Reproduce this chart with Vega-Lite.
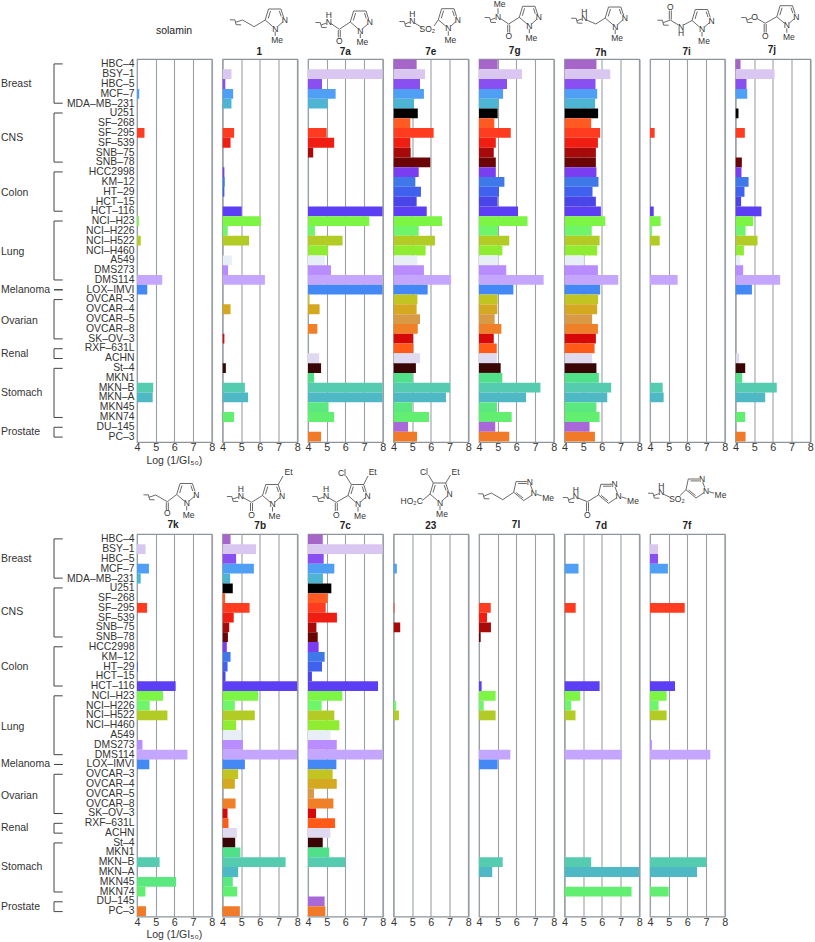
{
"$schema":"https://vega.github.io/schema/vega-lite/v6.json",
"padding":0,
"background":"white",
"config":{"view":{"stroke":"#8c9499","strokeWidth":1.2},"font":"Liberation Sans","concat":{"spacing":0}},
"datasets":{
"groups":[
{"group":"Breast","r0":0.5,"r1":4.5,"mid":2.5},
{"group":"CNS","r0":5.5,"r1":10.5,"mid":8},
{"group":"Colon","r0":11.5,"r1":15.5,"mid":13.6},
{"group":"Lung","r0":16.5,"r1":22.5,"mid":19.7},
{"group":"Melanoma","r0":23.5,"r1":23.5,"mid":23.5},
{"group":"Ovarian","r0":24.5,"r1":28.5,"mid":26.7},
{"group":"Renal","r0":29.5,"r1":30.5,"mid":30},
{"group":"Stomach","r0":31.5,"r1":36.5,"mid":34},
{"group":"Prostate","r0":37.5,"r1":38.5,"mid":38}
],
"bars":[
{"compound":"solamin","cell":"MCF–7","v":4.12},{"compound":"solamin","cell":"SF–295","v":4.4},{"compound":"solamin","cell":"NCI–H23","v":4.1},{"compound":"solamin","cell":"NCI–H522","v":4.2},{"compound":"solamin","cell":"DMS114","v":5.35},{"compound":"solamin","cell":"LOX–IMVI","v":4.55},{"compound":"solamin","cell":"MKN–B","v":4.87},{"compound":"solamin","cell":"MKN–A","v":4.84},
{"compound":"1","cell":"BSY–1","v":4.48},{"compound":"1","cell":"HBC–5","v":4.15},{"compound":"1","cell":"MCF–7","v":4.57},{"compound":"1","cell":"MDA–MB–231","v":4.48},{"compound":"1","cell":"SF–295","v":4.62},{"compound":"1","cell":"SF–539","v":4.43},{"compound":"1","cell":"HCC2998","v":4.1},{"compound":"1","cell":"KM–12","v":4.12},{"compound":"1","cell":"HT–29","v":4.1},{"compound":"1","cell":"HCT–116","v":5.03},{"compound":"1","cell":"NCI–H23","v":6.05},{"compound":"1","cell":"NCI–H226","v":4.28},{"compound":"1","cell":"NCI–H522","v":5.42},{"compound":"1","cell":"A549","v":4.5},{"compound":"1","cell":"DMS273","v":4.3},{"compound":"1","cell":"DMS114","v":6.27},{"compound":"1","cell":"OVCAR–4","v":4.43},{"compound":"1","cell":"SK–OV–3","v":4.1},{"compound":"1","cell":"St–4","v":4.18},{"compound":"1","cell":"MKN–B","v":5.2},{"compound":"1","cell":"MKN–A","v":5.37},{"compound":"1","cell":"MKN74","v":4.62},
{"compound":"7a","cell":"BSY–1","v":8},{"compound":"7a","cell":"HBC–5","v":4.75},{"compound":"7a","cell":"MCF–7","v":5.48},{"compound":"7a","cell":"MDA–MB–231","v":5.05},{"compound":"7a","cell":"SF–295","v":5},{"compound":"7a","cell":"SF–539","v":5.4},{"compound":"7a","cell":"SNB–75","v":4.28},{"compound":"7a","cell":"HCT–116","v":8},{"compound":"7a","cell":"NCI–H23","v":7.28},{"compound":"7a","cell":"NCI–H226","v":4.37},{"compound":"7a","cell":"NCI–H522","v":5.85},{"compound":"7a","cell":"NCI–H460","v":5.07},{"compound":"7a","cell":"A549","v":4.9},{"compound":"7a","cell":"DMS273","v":5.23},{"compound":"7a","cell":"DMS114","v":8},{"compound":"7a","cell":"LOX–IMVI","v":8},{"compound":"7a","cell":"OVCAR–3","v":4.08},{"compound":"7a","cell":"OVCAR–4","v":4.62},{"compound":"7a","cell":"OVCAR–8","v":4.5},{"compound":"7a","cell":"ACHN","v":4.6},{"compound":"7a","cell":"St–4","v":4.7},{"compound":"7a","cell":"MKN1","v":4.33},{"compound":"7a","cell":"MKN–B","v":8},{"compound":"7a","cell":"MKN–A","v":8},{"compound":"7a","cell":"MKN45","v":5.1},{"compound":"7a","cell":"MKN74","v":5.4},{"compound":"7a","cell":"PC–3","v":4.7},
{"compound":"7e","cell":"HBC–4","v":5.24},{"compound":"7e","cell":"BSY–1","v":5.69},{"compound":"7e","cell":"HBC–5","v":5.42},{"compound":"7e","cell":"MCF–7","v":5.63},{"compound":"7e","cell":"MDA–MB–231","v":5.1},{"compound":"7e","cell":"U251","v":5.3},{"compound":"7e","cell":"SF–268","v":4.9},{"compound":"7e","cell":"SF–295","v":6.15},{"compound":"7e","cell":"SF–539","v":4.9},{"compound":"7e","cell":"SNB–75","v":4.92},{"compound":"7e","cell":"SNB–78","v":5.97},{"compound":"7e","cell":"HCC2998","v":5.35},{"compound":"7e","cell":"KM–12","v":5.17},{"compound":"7e","cell":"HT–29","v":5.47},{"compound":"7e","cell":"HCT–15","v":5.24},{"compound":"7e","cell":"HCT–116","v":5.78},{"compound":"7e","cell":"NCI–H23","v":6.6},{"compound":"7e","cell":"NCI–H226","v":5.35},{"compound":"7e","cell":"NCI–H522","v":6.22},{"compound":"7e","cell":"NCI–H460","v":5.72},{"compound":"7e","cell":"A549","v":5.28},{"compound":"7e","cell":"DMS273","v":5.63},{"compound":"7e","cell":"DMS114","v":7.08},{"compound":"7e","cell":"LOX–IMVI","v":5.83},{"compound":"7e","cell":"OVCAR–3","v":5.28},{"compound":"7e","cell":"OVCAR–4","v":5.24},{"compound":"7e","cell":"OVCAR–5","v":5.42},{"compound":"7e","cell":"OVCAR–8","v":5.3},{"compound":"7e","cell":"SK–OV–3","v":5.05},{"compound":"7e","cell":"RXF–631L","v":5.06},{"compound":"7e","cell":"ACHN","v":5.42},{"compound":"7e","cell":"St–4","v":5.2},{"compound":"7e","cell":"MKN1","v":5.03},{"compound":"7e","cell":"MKN–B","v":7.03},{"compound":"7e","cell":"MKN–A","v":6.81},{"compound":"7e","cell":"MKN45","v":5},{"compound":"7e","cell":"MKN74","v":5.9},{"compound":"7e","cell":"DU–145","v":4.78},{"compound":"7e","cell":"PC–3","v":5.26},
{"compound":"7g","cell":"HBC–4","v":5},{"compound":"7g","cell":"BSY–1","v":6.3},{"compound":"7g","cell":"HBC–5","v":5.5},{"compound":"7g","cell":"MCF–7","v":5.29},{"compound":"7g","cell":"MDA–MB–231","v":5.04},{"compound":"7g","cell":"U251","v":5},{"compound":"7g","cell":"SF–268","v":4.82},{"compound":"7g","cell":"SF–295","v":5.7},{"compound":"7g","cell":"SF–539","v":4.9},{"compound":"7g","cell":"SNB–75","v":4.79},{"compound":"7g","cell":"SNB–78","v":4.9},{"compound":"7g","cell":"HCC2998","v":4.9},{"compound":"7g","cell":"KM–12","v":5.36},{"compound":"7g","cell":"HT–29","v":5.07},{"compound":"7g","cell":"HCT–15","v":5},{"compound":"7g","cell":"HCT–116","v":6.09},{"compound":"7g","cell":"NCI–H23","v":6.6},{"compound":"7g","cell":"NCI–H226","v":5.02},{"compound":"7g","cell":"NCI–H522","v":5.62},{"compound":"7g","cell":"NCI–H460","v":5.25},{"compound":"7g","cell":"A549","v":5.05},{"compound":"7g","cell":"DMS273","v":5.46},{"compound":"7g","cell":"DMS114","v":7.46},{"compound":"7g","cell":"LOX–IMVI","v":5.84},{"compound":"7g","cell":"OVCAR–3","v":5},{"compound":"7g","cell":"OVCAR–4","v":4.98},{"compound":"7g","cell":"OVCAR–5","v":4.84},{"compound":"7g","cell":"OVCAR–8","v":5.2},{"compound":"7g","cell":"SK–OV–3","v":4.79},{"compound":"7g","cell":"RXF–631L","v":4.95},{"compound":"7g","cell":"ACHN","v":4.95},{"compound":"7g","cell":"St–4","v":5.16},{"compound":"7g","cell":"MKN1","v":5.25},{"compound":"7g","cell":"MKN–B","v":7.29},{"compound":"7g","cell":"MKN–A","v":6.52},{"compound":"7g","cell":"MKN45","v":4.96},{"compound":"7g","cell":"MKN74","v":5.75},{"compound":"7g","cell":"DU–145","v":4.87},{"compound":"7g","cell":"PC–3","v":5.62},
{"compound":"7h","cell":"HBC–4","v":5.71},{"compound":"7h","cell":"BSY–1","v":6.45},{"compound":"7h","cell":"HBC–5","v":5.66},{"compound":"7h","cell":"MCF–7","v":5.75},{"compound":"7h","cell":"MDA–MB–231","v":5.64},{"compound":"7h","cell":"U251","v":5.8},{"compound":"7h","cell":"SF–268","v":5.43},{"compound":"7h","cell":"SF–295","v":5.91},{"compound":"7h","cell":"SF–539","v":5.79},{"compound":"7h","cell":"SNB–75","v":5.68},{"compound":"7h","cell":"SNB–78","v":5.68},{"compound":"7h","cell":"HCC2998","v":5.71},{"compound":"7h","cell":"KM–12","v":5.82},{"compound":"7h","cell":"HT–29","v":5.5},{"compound":"7h","cell":"HCT–15","v":5.68},{"compound":"7h","cell":"HCT–116","v":5.95},{"compound":"7h","cell":"NCI–H23","v":6.18},{"compound":"7h","cell":"NCI–H226","v":5.46},{"compound":"7h","cell":"NCI–H522","v":5.88},{"compound":"7h","cell":"NCI–H460","v":5.75},{"compound":"7h","cell":"A549","v":5.04},{"compound":"7h","cell":"DMS273","v":5.79},{"compound":"7h","cell":"DMS114","v":6.88},{"compound":"7h","cell":"LOX–IMVI","v":5.91},{"compound":"7h","cell":"OVCAR–3","v":5.8},{"compound":"7h","cell":"OVCAR–4","v":5.75},{"compound":"7h","cell":"OVCAR–5","v":5.48},{"compound":"7h","cell":"OVCAR–8","v":5.79},{"compound":"7h","cell":"SK–OV–3","v":5.68},{"compound":"7h","cell":"RXF–631L","v":5.61},{"compound":"7h","cell":"ACHN","v":5.48},{"compound":"7h","cell":"St–4","v":5.71},{"compound":"7h","cell":"MKN1","v":5.84},{"compound":"7h","cell":"MKN–B","v":6.5},{"compound":"7h","cell":"MKN–A","v":6.29},{"compound":"7h","cell":"MKN45","v":5.71},{"compound":"7h","cell":"MKN74","v":5.88},{"compound":"7h","cell":"DU–145","v":5.34},{"compound":"7h","cell":"PC–3","v":5.63},
{"compound":"7i","cell":"SF–295","v":4.25},{"compound":"7i","cell":"HCT–116","v":4.2},{"compound":"7i","cell":"NCI–H23","v":4.57},{"compound":"7i","cell":"NCI–H226","v":4.1},{"compound":"7i","cell":"NCI–H522","v":4.52},{"compound":"7i","cell":"DMS114","v":5.48},{"compound":"7i","cell":"MKN–B","v":4.68},{"compound":"7i","cell":"MKN–A","v":4.73},
{"compound":"7j","cell":"HBC–4","v":4.27},{"compound":"7j","cell":"BSY–1","v":6.09},{"compound":"7j","cell":"HBC–5","v":4.59},{"compound":"7j","cell":"MCF–7","v":4.63},{"compound":"7j","cell":"U251","v":4.16},{"compound":"7j","cell":"SF–295","v":4.5},{"compound":"7j","cell":"SNB–78","v":4.34},{"compound":"7j","cell":"HCC2998","v":4.32},{"compound":"7j","cell":"KM–12","v":4.7},{"compound":"7j","cell":"HT–29","v":4.48},{"compound":"7j","cell":"HCT–15","v":4.3},{"compound":"7j","cell":"HCT–116","v":5.39},{"compound":"7j","cell":"NCI–H23","v":4.95},{"compound":"7j","cell":"NCI–H226","v":4.54},{"compound":"7j","cell":"NCI–H522","v":5.18},{"compound":"7j","cell":"NCI–H460","v":4.45},{"compound":"7j","cell":"A549","v":4.25},{"compound":"7j","cell":"DMS273","v":4.41},{"compound":"7j","cell":"DMS114","v":6.39},{"compound":"7j","cell":"LOX–IMVI","v":4.88},{"compound":"7j","cell":"ACHN","v":4.2},{"compound":"7j","cell":"St–4","v":4.52},{"compound":"7j","cell":"MKN1","v":4.36},{"compound":"7j","cell":"MKN–B","v":6.21},{"compound":"7j","cell":"MKN–A","v":5.59},{"compound":"7j","cell":"MKN74","v":4.52},{"compound":"7j","cell":"PC–3","v":4.54},
{"compound":"7k","cell":"BSY–1","v":4.46},{"compound":"7k","cell":"MCF–7","v":4.64},{"compound":"7k","cell":"MDA–MB–231","v":4.2},{"compound":"7k","cell":"SF–295","v":4.54},{"compound":"7k","cell":"HT–29","v":4.04},{"compound":"7k","cell":"HCT–116","v":6.07},{"compound":"7k","cell":"NCI–H23","v":5.39},{"compound":"7k","cell":"NCI–H226","v":4.68},{"compound":"7k","cell":"NCI–H522","v":5.63},{"compound":"7k","cell":"DMS273","v":4.29},{"compound":"7k","cell":"DMS114","v":6.7},{"compound":"7k","cell":"LOX–IMVI","v":4.66},{"compound":"7k","cell":"MKN–B","v":5.21},{"compound":"7k","cell":"MKN45","v":6.09},{"compound":"7k","cell":"MKN74","v":4.45},{"compound":"7k","cell":"PC–3","v":4.48},
{"compound":"7b","cell":"HBC–4","v":4.43},{"compound":"7b","cell":"BSY–1","v":5.8},{"compound":"7b","cell":"HBC–5","v":4.73},{"compound":"7b","cell":"MCF–7","v":5.68},{"compound":"7b","cell":"MDA–MB–231","v":4.41},{"compound":"7b","cell":"U251","v":4.55},{"compound":"7b","cell":"SF–268","v":4.14},{"compound":"7b","cell":"SF–295","v":5.45},{"compound":"7b","cell":"SF–539","v":4.6},{"compound":"7b","cell":"SNB–75","v":4.36},{"compound":"7b","cell":"SNB–78","v":4.29},{"compound":"7b","cell":"HCC2998","v":4.23},{"compound":"7b","cell":"KM–12","v":4.43},{"compound":"7b","cell":"HT–29","v":4.27},{"compound":"7b","cell":"HCT–15","v":4.16},{"compound":"7b","cell":"HCT–116","v":8},{"compound":"7b","cell":"NCI–H23","v":5.91},{"compound":"7b","cell":"NCI–H226","v":4.66},{"compound":"7b","cell":"NCI–H522","v":5.73},{"compound":"7b","cell":"NCI–H460","v":4.73},{"compound":"7b","cell":"A549","v":5.02},{"compound":"7b","cell":"DMS273","v":5.09},{"compound":"7b","cell":"DMS114","v":8},{"compound":"7b","cell":"LOX–IMVI","v":5.2},{"compound":"7b","cell":"OVCAR–3","v":4.84},{"compound":"7b","cell":"OVCAR–4","v":4.66},{"compound":"7b","cell":"OVCAR–8","v":4.7},{"compound":"7b","cell":"SK–OV–3","v":4.27},{"compound":"7b","cell":"RXF–631L","v":4.32},{"compound":"7b","cell":"ACHN","v":4.77},{"compound":"7b","cell":"St–4","v":4.68},{"compound":"7b","cell":"MKN1","v":4.96},{"compound":"7b","cell":"MKN–B","v":7.38},{"compound":"7b","cell":"MKN–A","v":4.84},{"compound":"7b","cell":"MKN45","v":4.55},{"compound":"7b","cell":"MKN74","v":4.79},{"compound":"7b","cell":"PC–3","v":4.93},
{"compound":"7c","cell":"HBC–4","v":4.79},{"compound":"7c","cell":"BSY–1","v":8},{"compound":"7c","cell":"HBC–5","v":4.84},{"compound":"7c","cell":"MCF–7","v":5.41},{"compound":"7c","cell":"MDA–MB–231","v":4.8},{"compound":"7c","cell":"U251","v":5.25},{"compound":"7c","cell":"SF–268","v":5.05},{"compound":"7c","cell":"SF–295","v":4.95},{"compound":"7c","cell":"SF–539","v":5.55},{"compound":"7c","cell":"SNB–75","v":4.45},{"compound":"7c","cell":"SNB–78","v":4.52},{"compound":"7c","cell":"HCC2998","v":4.57},{"compound":"7c","cell":"KM–12","v":4.89},{"compound":"7c","cell":"HT–29","v":4.75},{"compound":"7c","cell":"HCT–15","v":4.21},{"compound":"7c","cell":"HCT–116","v":7.75},{"compound":"7c","cell":"NCI–H23","v":5.84},{"compound":"7c","cell":"NCI–H226","v":4.73},{"compound":"7c","cell":"NCI–H522","v":5.41},{"compound":"7c","cell":"NCI–H460","v":5.68},{"compound":"7c","cell":"A549","v":5.21},{"compound":"7c","cell":"DMS273","v":5.54},{"compound":"7c","cell":"DMS114","v":8},{"compound":"7c","cell":"LOX–IMVI","v":5.52},{"compound":"7c","cell":"OVCAR–3","v":5.32},{"compound":"7c","cell":"OVCAR–4","v":5.54},{"compound":"7c","cell":"OVCAR–5","v":4.32},{"compound":"7c","cell":"OVCAR–8","v":5.36},{"compound":"7c","cell":"SK–OV–3","v":4.43},{"compound":"7c","cell":"RXF–631L","v":5.45},{"compound":"7c","cell":"ACHN","v":5.2},{"compound":"7c","cell":"St–4","v":4.79},{"compound":"7c","cell":"MKN1","v":5.14},{"compound":"7c","cell":"MKN–B","v":6},{"compound":"7c","cell":"DU–145","v":4.89},{"compound":"7c","cell":"PC–3","v":4.93},
{"compound":"23","cell":"MCF–7","v":4.18},{"compound":"23","cell":"SF–295","v":4.05},{"compound":"23","cell":"SNB–75","v":4.36},{"compound":"23","cell":"NCI–H226","v":4.14},{"compound":"23","cell":"NCI–H522","v":4.29},
{"compound":"7l","cell":"SF–295","v":4.63},{"compound":"7l","cell":"SF–539","v":4.43},{"compound":"7l","cell":"SNB–75","v":4.64},{"compound":"7l","cell":"SNB–78","v":4.09},{"compound":"7l","cell":"HCT–116","v":4.14},{"compound":"7l","cell":"NCI–H23","v":4.89},{"compound":"7l","cell":"NCI–H226","v":4.25},{"compound":"7l","cell":"NCI–H522","v":4.89},{"compound":"7l","cell":"DMS114","v":5.68},{"compound":"7l","cell":"LOX–IMVI","v":5},{"compound":"7l","cell":"MKN–B","v":5.27},{"compound":"7l","cell":"MKN–A","v":4.71},
{"compound":"7d","cell":"MCF–7","v":4.75},{"compound":"7d","cell":"SF–295","v":4.6},{"compound":"7d","cell":"HCT–116","v":5.88},{"compound":"7d","cell":"NCI–H23","v":4.84},{"compound":"7d","cell":"NCI–H226","v":4.36},{"compound":"7d","cell":"NCI–H522","v":4.59},{"compound":"7d","cell":"DMS114","v":7.07},{"compound":"7d","cell":"MKN–B","v":5.43},{"compound":"7d","cell":"MKN–A","v":8},{"compound":"7d","cell":"MKN74","v":7.59},
{"compound":"7f","cell":"BSY–1","v":4.43},{"compound":"7f","cell":"HBC–5","v":4.43},{"compound":"7f","cell":"MCF–7","v":4.96},{"compound":"7f","cell":"SF–295","v":5.86},{"compound":"7f","cell":"HCT–116","v":5.34},{"compound":"7f","cell":"NCI–H23","v":4.89},{"compound":"7f","cell":"NCI–H226","v":4.46},{"compound":"7f","cell":"NCI–H522","v":4.89},{"compound":"7f","cell":"DMS273","v":4.1},{"compound":"7f","cell":"DMS114","v":7.23},{"compound":"7f","cell":"MKN–B","v":7.02},{"compound":"7f","cell":"MKN–A","v":6.52},{"compound":"7f","cell":"MKN74","v":5}
],
"structure":[
{"c":"solamin","x":38,"y":30.7,"t":"solamin","k":"p"},
{"c":"1","x":37.7,"y":51.7,"t":"1","k":"n"},{"c":"1","x":63.2,"y":20,"t":"N","k":"a"},{"c":"1","x":53.7,"y":28.7,"t":"N","k":"a"},{"c":"1","x":55.7,"y":40.3,"t":"Me","k":"a"},
{"c":"1","x":43.7,"y":20,"x2":47,"y2":9},{"c":"1","x":47,"y":9,"x2":59.4,"y2":9},{"c":"1","x":59.4,"y":9,"x2":62,"y2":17},{"c":"1","x":61.2,"y":22,"x2":56.2,"y2":26.5},{"c":"1","x":51.2,"y":26.5,"x2":43.7,"y2":20},{"c":"1","x":46.7,"y":18.5,"x2":49,"y2":11},{"c":"1","x":57.9,"y":11,"x2":59.7,"y2":16.5},{"c":"1","x":53.7,"y":31.5,"x2":53.7,"y2":36},{"c":"1","x":8.4,"y":19.8,"x2":13.4,"y2":19.9},{"c":"1","x":13.4,"y":19.9,"x2":14.6,"y2":24.7},{"c":"1","x":14.6,"y":24.7,"x2":19.6,"y2":24.8},{"c":"1","x":14,"y":22.3,"x2":21,"y2":20},{"c":"1","x":21,"y":20,"x2":32.7,"y2":26.7},{"c":"1","x":32.7,"y":26.7,"x2":43.7,"y2":20},
{"c":"7a","x":38.3,"y":51.7,"t":"7a","k":"n"},{"c":"7a","x":62.8,"y":22,"t":"N","k":"a"},{"c":"7a","x":53.3,"y":30.7,"t":"N","k":"a"},{"c":"7a","x":55.3,"y":42.3,"t":"Me","k":"a"},{"c":"7a","x":21.7,"y":21.7,"t":"N","k":"a"},{"c":"7a","x":21.7,"y":15,"t":"H","k":"a"},{"c":"7a","x":32.3,"y":40.7,"t":"O","k":"a"},
{"c":"7a","x":43.3,"y":22,"x2":46.6,"y2":11},{"c":"7a","x":46.6,"y":11,"x2":59,"y2":11},{"c":"7a","x":59,"y":11,"x2":61.6,"y2":19},{"c":"7a","x":60.8,"y":24,"x2":55.8,"y2":28.5},{"c":"7a","x":50.8,"y":28.5,"x2":43.3,"y2":22},{"c":"7a","x":46.3,"y":20.5,"x2":48.6,"y2":13},{"c":"7a","x":57.5,"y":13,"x2":59.3,"y2":18.5},{"c":"7a","x":53.3,"y":33.5,"x2":53.3,"y2":38},{"c":"7a","x":8.4,"y":22.5,"x2":13.4,"y2":22.6},{"c":"7a","x":13.4,"y":22.6,"x2":14.6,"y2":27.4},{"c":"7a","x":14.6,"y":27.4,"x2":19.6,"y2":27.5},{"c":"7a","x":14,"y":25,"x2":19.5,"y2":23},{"c":"7a","x":24,"y":23.5,"x2":32.3,"y2":29.3},{"c":"7a","x":32.3,"y":29.3,"x2":43.3,"y2":22},{"c":"7a","x":31.3,"y":30,"x2":31.3,"y2":37.5},{"c":"7a","x":33.3,"y":30,"x2":33.3,"y2":37.5},
{"c":"7e","x":38.2,"y":51.7,"t":"7e","k":"n"},{"c":"7e","x":65.3,"y":19.7,"t":"N","k":"a"},{"c":"7e","x":55.8,"y":28.4,"t":"N","k":"a"},{"c":"7e","x":57.8,"y":40,"t":"Me","k":"a"},{"c":"7e","x":19.8,"y":20.7,"t":"N","k":"a"},{"c":"7e","x":19.8,"y":14,"t":"H","k":"a"},{"c":"7e","x":34.8,"y":29,"t":"SO₂","k":"a"},
{"c":"7e","x":45.8,"y":19.7,"x2":49.1,"y2":8.7},{"c":"7e","x":49.1,"y":8.7,"x2":61.5,"y2":8.7},{"c":"7e","x":61.5,"y":8.7,"x2":64.1,"y2":16.7},{"c":"7e","x":63.3,"y":21.7,"x2":58.3,"y2":26.2},{"c":"7e","x":53.3,"y":26.2,"x2":45.8,"y2":19.7},{"c":"7e","x":48.8,"y":18.2,"x2":51.1,"y2":10.7},{"c":"7e","x":60,"y":10.7,"x2":61.8,"y2":16.2},{"c":"7e","x":55.8,"y":31.2,"x2":55.8,"y2":35.7},{"c":"7e","x":6.9,"y":21.5,"x2":11.9,"y2":21.6},{"c":"7e","x":11.9,"y":21.6,"x2":13.1,"y2":26.4},{"c":"7e","x":13.1,"y":26.4,"x2":18.1,"y2":26.5},{"c":"7e","x":12.5,"y":24,"x2":17.5,"y2":22},{"c":"7e","x":22.5,"y":23.3,"x2":29.2,"y2":27.3},{"c":"7e","x":41.5,"y":26,"x2":45.8,"y2":19.7},
{"c":"7g","x":36.7,"y":50.7,"t":"7g","k":"n"},{"c":"7g","x":60.8,"y":17.3,"t":"N","k":"a"},{"c":"7g","x":51.3,"y":26,"t":"N","k":"a"},{"c":"7g","x":53.3,"y":37.6,"t":"Me","k":"a"},{"c":"7g","x":20,"y":16.7,"t":"N","k":"a"},{"c":"7g","x":21.7,"y":4,"t":"Me","k":"a"},{"c":"7g","x":30.7,"y":36,"t":"O","k":"a"},
{"c":"7g","x":41.3,"y":17.3,"x2":44.6,"y2":6.3},{"c":"7g","x":44.6,"y":6.3,"x2":57,"y2":6.3},{"c":"7g","x":57,"y":6.3,"x2":59.6,"y2":14.3},{"c":"7g","x":58.8,"y":19.3,"x2":53.8,"y2":23.8},{"c":"7g","x":48.8,"y":23.8,"x2":41.3,"y2":17.3},{"c":"7g","x":44.3,"y":15.8,"x2":46.6,"y2":8.3},{"c":"7g","x":55.5,"y":8.3,"x2":57.3,"y2":13.8},{"c":"7g","x":51.3,"y":28.8,"x2":51.3,"y2":33.3},{"c":"7g","x":6.7,"y":17.5,"x2":11.7,"y2":17.6},{"c":"7g","x":11.7,"y":17.6,"x2":12.9,"y2":22.4},{"c":"7g","x":12.9,"y":22.4,"x2":17.9,"y2":22.5},{"c":"7g","x":12.3,"y":20,"x2":17.5,"y2":18},{"c":"7g","x":22.5,"y":18.5,"x2":30.7,"y2":24},{"c":"7g","x":30.7,"y":24,"x2":41.3,"y2":17.3},{"c":"7g","x":29.7,"y":24.7,"x2":29.7,"y2":32.5},{"c":"7g","x":31.7,"y":24.7,"x2":31.7,"y2":32.5},{"c":"7g","x":20,"y":14,"x2":20,"y2":8.3},
{"c":"7h","x":37.3,"y":52.7,"t":"7h","k":"n"},{"c":"7h","x":61.2,"y":18,"t":"N","k":"a"},{"c":"7h","x":51.7,"y":26.7,"t":"N","k":"a"},{"c":"7h","x":53.7,"y":38.3,"t":"Me","k":"a"},{"c":"7h","x":20.7,"y":18.3,"t":"N","k":"a"},{"c":"7h","x":20.7,"y":11.7,"t":"H","k":"a"},
{"c":"7h","x":41.7,"y":18,"x2":45,"y2":7},{"c":"7h","x":45,"y":7,"x2":57.4,"y2":7},{"c":"7h","x":57.4,"y":7,"x2":60,"y2":15},{"c":"7h","x":59.2,"y":20,"x2":54.2,"y2":24.5},{"c":"7h","x":49.2,"y":24.5,"x2":41.7,"y2":18},{"c":"7h","x":44.7,"y":16.5,"x2":47,"y2":9},{"c":"7h","x":55.9,"y":9,"x2":57.7,"y2":14.5},{"c":"7h","x":51.7,"y":29.5,"x2":51.7,"y2":34},{"c":"7h","x":7.7,"y":18.2,"x2":12.7,"y2":18.3},{"c":"7h","x":12.7,"y":18.3,"x2":13.9,"y2":23.1},{"c":"7h","x":13.9,"y":23.1,"x2":18.9,"y2":23.2},{"c":"7h","x":13.3,"y":20.7,"x2":18.5,"y2":19},{"c":"7h","x":23,"y":20,"x2":32.3,"y2":24},{"c":"7h","x":32.3,"y":24,"x2":41.7,"y2":18},
{"c":"7i","x":37.7,"y":52.3,"t":"7i","k":"n"},{"c":"7i","x":62.5,"y":20.5,"t":"N","k":"a"},{"c":"7i","x":53,"y":29.2,"t":"N","k":"a"},{"c":"7i","x":55,"y":40.8,"t":"Me","k":"a"},{"c":"7i","x":21.3,"y":7.3,"t":"O","k":"a"},{"c":"7i","x":32,"y":26.7,"t":"N","k":"a"},{"c":"7i","x":32,"y":33.3,"t":"H","k":"a"},
{"c":"7i","x":43,"y":20.5,"x2":46.3,"y2":9.5},{"c":"7i","x":46.3,"y":9.5,"x2":58.7,"y2":9.5},{"c":"7i","x":58.7,"y":9.5,"x2":61.3,"y2":17.5},{"c":"7i","x":60.5,"y":22.5,"x2":55.5,"y2":27},{"c":"7i","x":50.5,"y":27,"x2":43,"y2":20.5},{"c":"7i","x":46,"y":19,"x2":48.3,"y2":11.5},{"c":"7i","x":57.2,"y":11.5,"x2":59,"y2":17},{"c":"7i","x":53,"y":32,"x2":53,"y2":36.5},{"c":"7i","x":8.4,"y":20.2,"x2":13.4,"y2":20.3},{"c":"7i","x":13.4,"y":20.3,"x2":14.6,"y2":25.1},{"c":"7i","x":14.6,"y":25.1,"x2":19.6,"y2":25.2},{"c":"7i","x":14,"y":22.7,"x2":21.3,"y2":20},{"c":"7i","x":20.3,"y":19.5,"x2":20.3,"y2":10.5},{"c":"7i","x":22.3,"y":19.5,"x2":22.3,"y2":10.5},{"c":"7i","x":21.3,"y":20,"x2":29.5,"y2":25},{"c":"7i","x":34.5,"y":25,"x2":43,"y2":20.5},
{"c":"7j","x":37.3,"y":50,"t":"7j","k":"n"},{"c":"7j","x":61.8,"y":16.7,"t":"N","k":"a"},{"c":"7j","x":52.3,"y":25.4,"t":"N","k":"a"},{"c":"7j","x":54.3,"y":37,"t":"Me","k":"a"},{"c":"7j","x":20,"y":16.7,"t":"O","k":"a"},{"c":"7j","x":30.7,"y":36,"t":"O","k":"a"},
{"c":"7j","x":42.3,"y":16.7,"x2":45.6,"y2":5.7},{"c":"7j","x":45.6,"y":5.7,"x2":58,"y2":5.7},{"c":"7j","x":58,"y":5.7,"x2":60.6,"y2":13.7},{"c":"7j","x":59.8,"y":18.7,"x2":54.8,"y2":23.2},{"c":"7j","x":49.8,"y":23.2,"x2":42.3,"y2":16.7},{"c":"7j","x":45.3,"y":15.2,"x2":47.6,"y2":7.7},{"c":"7j","x":56.5,"y":7.7,"x2":58.3,"y2":13.2},{"c":"7j","x":52.3,"y":28.2,"x2":52.3,"y2":32.7},{"c":"7j","x":6.7,"y":17.5,"x2":11.7,"y2":17.6},{"c":"7j","x":11.7,"y":17.6,"x2":12.9,"y2":22.4},{"c":"7j","x":12.9,"y":22.4,"x2":17.9,"y2":22.5},{"c":"7j","x":12.3,"y":20,"x2":17.5,"y2":18},{"c":"7j","x":22.5,"y":18.5,"x2":30.7,"y2":23.3},{"c":"7j","x":30.7,"y":23.3,"x2":42.3,"y2":16.7},{"c":"7j","x":29.7,"y":24,"x2":29.7,"y2":32.5},{"c":"7j","x":31.7,"y":24,"x2":31.7,"y2":32.5},
{"c":"7k","x":37,"y":56,"t":"7k","k":"n"},{"c":"7k","x":60.2,"y":25.5,"t":"N","k":"a"},{"c":"7k","x":50.7,"y":34.2,"t":"N","k":"a"},{"c":"7k","x":52.7,"y":45.8,"t":"Me","k":"a"},{"c":"7k","x":31.3,"y":44,"t":"O","k":"a"},
{"c":"7k","x":40.7,"y":25.5,"x2":44,"y2":14.5},{"c":"7k","x":44,"y":14.5,"x2":56.4,"y2":14.5},{"c":"7k","x":56.4,"y":14.5,"x2":59,"y2":22.5},{"c":"7k","x":58.2,"y":27.5,"x2":53.2,"y2":32},{"c":"7k","x":48.2,"y":32,"x2":40.7,"y2":25.5},{"c":"7k","x":43.7,"y":24,"x2":46,"y2":16.5},{"c":"7k","x":54.9,"y":16.5,"x2":56.7,"y2":22},{"c":"7k","x":50.7,"y":37,"x2":50.7,"y2":41.5},{"c":"7k","x":7.4,"y":25.8,"x2":12.4,"y2":25.9},{"c":"7k","x":12.4,"y":25.9,"x2":13.6,"y2":30.7},{"c":"7k","x":13.6,"y":30.7,"x2":18.6,"y2":30.8},{"c":"7k","x":13,"y":28.3,"x2":19.7,"y2":26},{"c":"7k","x":19.7,"y":26,"x2":31.3,"y2":32.7},{"c":"7k","x":31.3,"y":32.7,"x2":40.7,"y2":25.5},{"c":"7k","x":30.3,"y":33.4,"x2":30.3,"y2":41},{"c":"7k","x":32.3,"y":33.4,"x2":32.3,"y2":41},
{"c":"7b","x":38.7,"y":56.7,"t":"7b","k":"n"},{"c":"7b","x":60.5,"y":26.5,"t":"N","k":"a"},{"c":"7b","x":51,"y":35.2,"t":"N","k":"a"},{"c":"7b","x":53,"y":46.8,"t":"Me","k":"a"},{"c":"7b","x":19.3,"y":26.7,"t":"N","k":"a"},{"c":"7b","x":19.3,"y":20,"t":"H","k":"a"},{"c":"7b","x":30,"y":45.7,"t":"O","k":"a"},{"c":"7b","x":67,"y":3.3,"t":"Et","k":"a"},
{"c":"7b","x":41,"y":26.5,"x2":44.3,"y2":15.5},{"c":"7b","x":44.3,"y":15.5,"x2":56.7,"y2":15.5},{"c":"7b","x":56.7,"y":15.5,"x2":59.3,"y2":23.5},{"c":"7b","x":58.5,"y":28.5,"x2":53.5,"y2":33},{"c":"7b","x":48.5,"y":33,"x2":41,"y2":26.5},{"c":"7b","x":44,"y":25,"x2":46.3,"y2":17.5},{"c":"7b","x":55.2,"y":17.5,"x2":57,"y2":23},{"c":"7b","x":51,"y":38,"x2":51,"y2":42.5},{"c":"7b","x":5.4,"y":27.5,"x2":10.4,"y2":27.6},{"c":"7b","x":10.4,"y":27.6,"x2":11.6,"y2":32.4},{"c":"7b","x":11.6,"y":32.4,"x2":16.6,"y2":32.5},{"c":"7b","x":11,"y":30,"x2":17,"y2":28},{"c":"7b","x":21.5,"y":28.5,"x2":30,"y2":33.3},{"c":"7b","x":30,"y":33.3,"x2":41,"y2":26.5},{"c":"7b","x":29,"y":34,"x2":29,"y2":42},{"c":"7b","x":31,"y":34,"x2":31,"y2":42},{"c":"7b","x":56.7,"y":15.5,"x2":61.5,"y2":7},
{"c":"7c","x":38.3,"y":57.3,"t":"7c","k":"n"},{"c":"7c","x":60.5,"y":26.5,"t":"N","k":"a"},{"c":"7c","x":51,"y":35.2,"t":"N","k":"a"},{"c":"7c","x":53,"y":46.8,"t":"Me","k":"a"},{"c":"7c","x":19,"y":26.7,"t":"N","k":"a"},{"c":"7c","x":19,"y":20,"t":"H","k":"a"},{"c":"7c","x":29.3,"y":45.7,"t":"O","k":"a"},{"c":"7c","x":65.7,"y":3.3,"t":"Et","k":"a"},{"c":"7c","x":35,"y":4,"t":"Cl","k":"a"},
{"c":"7c","x":41,"y":26.5,"x2":44.3,"y2":15.5},{"c":"7c","x":44.3,"y":15.5,"x2":56.7,"y2":15.5},{"c":"7c","x":56.7,"y":15.5,"x2":59.3,"y2":23.5},{"c":"7c","x":58.5,"y":28.5,"x2":53.5,"y2":33},{"c":"7c","x":48.5,"y":33,"x2":41,"y2":26.5},{"c":"7c","x":44,"y":25,"x2":46.3,"y2":17.5},{"c":"7c","x":55.2,"y":17.5,"x2":57,"y2":23},{"c":"7c","x":51,"y":38,"x2":51,"y2":42.5},{"c":"7c","x":5.4,"y":27.5,"x2":10.4,"y2":27.6},{"c":"7c","x":10.4,"y":27.6,"x2":11.6,"y2":32.4},{"c":"7c","x":11.6,"y":32.4,"x2":16.6,"y2":32.5},{"c":"7c","x":11,"y":30,"x2":17,"y2":28},{"c":"7c","x":21,"y":28.5,"x2":29.3,"y2":33.3},{"c":"7c","x":29.3,"y":33.3,"x2":41,"y2":26.5},{"c":"7c","x":28.3,"y":34,"x2":28.3,"y2":42},{"c":"7c","x":30.3,"y":34,"x2":30.3,"y2":42},{"c":"7c","x":56.7,"y":15.5,"x2":61,"y2":7},{"c":"7c","x":44.3,"y":15.5,"x2":39,"y2":7},
{"c":"23","x":38.2,"y":56.7,"t":"23","k":"n"},{"c":"23","x":57,"y":25,"t":"N","k":"a"},{"c":"23","x":47.5,"y":33.7,"t":"N","k":"a"},{"c":"23","x":49.5,"y":45.3,"t":"Me","k":"a"},{"c":"23","x":19.2,"y":31.7,"t":"HO₂C","k":"a"},{"c":"23","x":31.5,"y":2.7,"t":"Cl","k":"a"},{"c":"23","x":63,"y":2.7,"t":"Et","k":"a"},
{"c":"23","x":37.5,"y":25,"x2":40.8,"y2":14},{"c":"23","x":40.8,"y":14,"x2":53.2,"y2":14},{"c":"23","x":53.2,"y":14,"x2":55.8,"y2":22},{"c":"23","x":55,"y":27,"x2":50,"y2":31.5},{"c":"23","x":45,"y":31.5,"x2":37.5,"y2":25},{"c":"23","x":40.5,"y":23.5,"x2":42.8,"y2":16},{"c":"23","x":51.7,"y":16,"x2":53.5,"y2":21.5},{"c":"23","x":47.5,"y":36.5,"x2":47.5,"y2":41},{"c":"23","x":29.8,"y":31.5,"x2":37.5,"y2":25},{"c":"23","x":40.8,"y":14,"x2":36,"y2":6},{"c":"23","x":53.2,"y":14,"x2":58,"y2":6},
{"c":"7l","x":38,"y":56,"t":"7l","k":"n"},{"c":"7l","x":51.7,"y":12.6,"t":"N","k":"a"},{"c":"7l","x":55.7,"y":24.3,"t":"N","k":"a"},{"c":"7l","x":70.2,"y":29,"t":"Me","k":"a"},
{"c":"7l","x":35.7,"y":23.3,"x2":38,"y2":12.6},{"c":"7l","x":38,"y":12.6,"x2":49.2,"y2":12.6},{"c":"7l","x":40.2,"y":14.5,"x2":48.7,"y2":14.5},{"c":"7l","x":52.2,"y":15.3,"x2":54.5,"y2":21.3},{"c":"7l","x":53.7,"y":26.3,"x2":45.7,"y2":31.6},{"c":"7l","x":45.7,"y":31.6,"x2":35.7,"y2":23.3},{"c":"7l","x":45.2,"y":29.1,"x2":38.2,"y2":23.6},{"c":"7l","x":58.7,"y":25.3,"x2":63.7,"y2":26.8},{"c":"7l","x":5.7,"y":27.3,"x2":13.3,"y2":24},{"c":"7l","x":13.3,"y":24,"x2":24.7,"y2":30.7},{"c":"7l","x":24.7,"y":30.7,"x2":35.7,"y2":23.3},{"c":"7l","x":0.1,"y":24.8,"x2":5.1,"y2":24.9},{"c":"7l","x":5.1,"y":24.9,"x2":6.3,"y2":29.7},{"c":"7l","x":6.3,"y":29.7,"x2":11.3,"y2":29.8},
{"c":"7d","x":37.7,"y":57.3,"t":"7d","k":"n"},{"c":"7d","x":51,"y":15.3,"t":"N","k":"a"},{"c":"7d","x":55,"y":27,"t":"N","k":"a"},{"c":"7d","x":69.5,"y":31.7,"t":"Me","k":"a"},{"c":"7d","x":12.3,"y":27.3,"t":"N","k":"a"},{"c":"7d","x":12.3,"y":20.7,"t":"H","k":"a"},{"c":"7d","x":23.7,"y":46,"t":"O","k":"a"},
{"c":"7d","x":35,"y":26,"x2":37.3,"y2":15.3},{"c":"7d","x":37.3,"y":15.3,"x2":48.5,"y2":15.3},{"c":"7d","x":39.5,"y":17.2,"x2":48,"y2":17.2},{"c":"7d","x":51.5,"y":18,"x2":53.8,"y2":24},{"c":"7d","x":53,"y":29,"x2":45,"y2":34.3},{"c":"7d","x":45,"y":34.3,"x2":35,"y2":26},{"c":"7d","x":44.5,"y":31.8,"x2":37.5,"y2":26.3},{"c":"7d","x":58,"y":28,"x2":63,"y2":29.5},{"c":"7d","x":-0.6,"y":28.5,"x2":4.4,"y2":28.6},{"c":"7d","x":4.4,"y":28.6,"x2":5.6,"y2":33.4},{"c":"7d","x":5.6,"y":33.4,"x2":10.6,"y2":33.5},{"c":"7d","x":5,"y":31,"x2":10,"y2":29},{"c":"7d","x":14.5,"y":29,"x2":24,"y2":32.7},{"c":"7d","x":24,"y":32.7,"x2":35,"y2":26},{"c":"7d","x":23,"y":33.4,"x2":23,"y2":42.5},{"c":"7d","x":25,"y":33.4,"x2":25,"y2":42.5},
{"c":"7f","x":38,"y":57.3,"t":"7f","k":"n"},{"c":"7f","x":53,"y":10,"t":"N","k":"a"},{"c":"7f","x":57,"y":21.7,"t":"N","k":"a"},{"c":"7f","x":71.5,"y":26.4,"t":"Me","k":"a"},{"c":"7f","x":12.3,"y":23.3,"t":"N","k":"a"},{"c":"7f","x":12.3,"y":16.7,"t":"H","k":"a"},{"c":"7f","x":28,"y":30,"t":"SO₂","k":"a"},
{"c":"7f","x":37,"y":20.7,"x2":39.3,"y2":10},{"c":"7f","x":39.3,"y":10,"x2":50.5,"y2":10},{"c":"7f","x":41.5,"y":11.9,"x2":50,"y2":11.9},{"c":"7f","x":53.5,"y":12.7,"x2":55.8,"y2":18.7},{"c":"7f","x":55,"y":23.7,"x2":47,"y2":29},{"c":"7f","x":47,"y":29,"x2":37,"y2":20.7},{"c":"7f","x":46.5,"y":26.5,"x2":39.5,"y2":21},{"c":"7f","x":60,"y":22.7,"x2":65,"y2":24.2},{"c":"7f","x":-0.9,"y":24.2,"x2":4.1,"y2":24.3},{"c":"7f","x":4.1,"y":24.3,"x2":5.3,"y2":29.1},{"c":"7f","x":5.3,"y":29.1,"x2":10.3,"y2":29.2},{"c":"7f","x":4.7,"y":26.7,"x2":9.8,"y2":24.7},{"c":"7f","x":15,"y":25.5,"x2":21.5,"y2":28.5},{"c":"7f","x":31,"y":26.5,"x2":37,"y2":20.7}
]
},
"vconcat":[
{"hconcat":[
{"width":136,"height":58,"view":{"stroke":null},"data":{"values":[{"blank":""}]},"mark":{"type":"point","opacity":0},"encoding":{}},
{"data":{"name":"structure"},"transform":[{"filter":{"field":"c","oneOf":["solamin","1","7a","7e","7g","7h","7i","7j"]}}],
"facet":{"column":{"field":"c","type":"nominal","sort":["solamin","1","7a","7e","7g","7h","7i","7j"],"header":null}},"spacing":10.5,"bounds":"flush",
"spec":{"width":74.7,"height":58,"view":{"stroke":null},
"encoding":{"x":{"field":"x","type":"quantitative","scale":{"domain":[0,74.7],"nice":false},"axis":null},"y":{"field":"y","type":"quantitative","scale":{"domain":[58,0],"nice":false},"axis":null}},
"layer":[
{"transform":[{"filter":"datum.t==null"}],"mark":{"type":"rule","color":"#5a5a5a","strokeWidth":0.9},"encoding":{"x2":{"field":"x2"},"y2":{"field":"y2"}}},
{"transform":[{"filter":"datum.k==='a'"}],"mark":{"type":"text","fontSize":8.5,"color":"#333333"},"encoding":{"text":{"field":"t"}}},
{"transform":[{"filter":"datum.k==='n'"}],"mark":{"type":"text","fontSize":10,"fontWeight":"bold","color":"#222222"},"encoding":{"text":{"field":"t"}}},
{"transform":[{"filter":"datum.k==='p'"}],"mark":{"type":"text","fontSize":10.5,"color":"#222222"},"encoding":{"text":{"field":"t"}}}
]}}
],"spacing":0},
{"hconcat":[
{"width":63,"height":383,"view":{"stroke":null},"data":{"name":"groups"},
"encoding":{"y":{"field":"r0","type":"quantitative","scale":{"domain":[39,0],"nice":false,"zero":false},"axis":null}},
"layer":[
{"mark":{"type":"rule","color":"#444444","strokeWidth":1},"encoding":{"x":{"datum":54,"type":"quantitative","scale":{"domain":[0,63],"nice":false},"axis":null},"y2":{"field":"r1"}}},
{"mark":{"type":"rule","color":"#444444","strokeWidth":1},"encoding":{"x":{"datum":54,"type":"quantitative"},"x2":{"datum":62.7}}},
{"mark":{"type":"rule","color":"#444444","strokeWidth":1},"encoding":{"x":{"datum":54,"type":"quantitative"},"x2":{"datum":62.7},"y":{"field":"r1","type":"quantitative"}}},
{"mark":{"type":"text","align":"left","fontSize":10.5,"color":"#333333"},"encoding":{"x":{"datum":1,"type":"quantitative"},"y":{"field":"mid","type":"quantitative"},"text":{"field":"group"}}}
]},
{"data":{"name":"bars"},"transform":[{"filter":{"field":"compound","oneOf":["solamin","1","7a","7e","7g","7h","7i","7j"]}}],
"facet":{"column":{"field":"compound","type":"nominal","sort":["solamin","1","7a","7e","7g","7h","7i","7j"],"header":null}},"spacing":10.5,"bounds":"flush",
"spec":{"width":74.7,"height":383,
"layer":[
{"mark":{"type":"bar","clip":true},"encoding":{
"x":{"field":"v","type":"quantitative","title":null,"scale":{"domain":[4,8],"nice":false,"zero":false},"axis":{"tickCount":5,"grid":true,"gridColor":"#99a1a6","gridWidth":1.1,"ticks":false,"domain":false,"labelFontSize":10.8,"labelColor":"#333333","labelPadding":-1,"labelFlush":false,"title":null}},
"x2":{"datum":4},
"y":{"field":"cell","type":"nominal","scale":{"domain":["HBC–4","BSY–1","HBC–5","MCF–7","MDA–MB–231","U251","SF–268","SF–295","SF–539","SNB–75","SNB–78","HCC2998","KM–12","HT–29","HCT–15","HCT–116","NCI–H23","NCI–H226","NCI–H522","NCI–H460","A549","DMS273","DMS114","LOX–IMVI","OVCAR–3","OVCAR–4","OVCAR–5","OVCAR–8","SK–OV–3","RXF–631L","ACHN","St–4","MKN1","MKN–B","MKN–A","MKN45","MKN74","DU–145","PC–3"],"paddingInner":0,"paddingOuter":0.05},"axis":{"title":null,"ticks":false,"domain":false,"labelFontSize":10.4,"labelColor":"#333333","labelPadding":3,"minExtent":73,"maxExtent":73,"labelOverlap":false}},
"color":{"field":"cell","type":"nominal","legend":null,"scale":{"domain":["HBC–4","BSY–1","HBC–5","MCF–7","MDA–MB–231","U251","SF–268","SF–295","SF–539","SNB–75","SNB–78","HCC2998","KM–12","HT–29","HCT–15","HCT–116","NCI–H23","NCI–H226","NCI–H522","NCI–H460","A549","DMS273","DMS114","LOX–IMVI","OVCAR–3","OVCAR–4","OVCAR–5","OVCAR–8","SK–OV–3","RXF–631L","ACHN","St–4","MKN1","MKN–B","MKN–A","MKN45","MKN74","DU–145","PC–3"],"range":["#a566c8","#d9c7f2","#8a4ff0","#4f9ff5","#4db4d3","#000000","#ff5a22","#ff3b20","#f01e12","#a80a0a","#6b0505","#7a3df0","#3f78e8","#4060ee","#4a45e8","#5c3ff5","#7df545","#6ef56a","#b2cc25","#90ec30","#e8eef5","#b98cff","#c5a6ff","#4488f5","#c2c422","#d4a820","#d99a45","#f08028","#d60808","#ff5a18","#e0daf0","#3a0505","#50e08a","#55ccb0","#4fb8c5","#5ce880","#62ee70","#a868d8","#f07a28"]}}
}},
{"transform":[{"filter":"datum.compound==='solamin' && datum.cell==='MCF–7'"}],"mark":{"type":"text","dy":24,"fontSize":10.5,"color":"#333333"},"encoding":{"x":{"datum":6,"type":"quantitative"},"y":{"datum":"PC–3","type":"nominal"},"text":{"value":"Log (1/GI₅₀)"}}}
]}}
],"spacing":0},
{"hconcat":[
{"width":136,"height":63.3,"view":{"stroke":null},"data":{"values":[{"blank":""}]},"mark":{"type":"point","opacity":0},"encoding":{}},
{"data":{"name":"structure"},"transform":[{"filter":{"field":"c","oneOf":["7k","7b","7c","23","7l","7d","7f"]}}],
"facet":{"column":{"field":"c","type":"nominal","sort":["7k","7b","7c","23","7l","7d","7f"],"header":null}},"spacing":10.5,"bounds":"flush",
"spec":{"width":74.7,"height":63.3,"view":{"stroke":null},
"encoding":{"x":{"field":"x","type":"quantitative","scale":{"domain":[0,74.7],"nice":false},"axis":null},"y":{"field":"y","type":"quantitative","scale":{"domain":[63.3,0],"nice":false},"axis":null}},
"layer":[
{"transform":[{"filter":"datum.t==null"}],"mark":{"type":"rule","color":"#5a5a5a","strokeWidth":0.9},"encoding":{"x2":{"field":"x2"},"y2":{"field":"y2"}}},
{"transform":[{"filter":"datum.k==='a'"}],"mark":{"type":"text","fontSize":8.5,"color":"#333333"},"encoding":{"text":{"field":"t"}}},
{"transform":[{"filter":"datum.k==='n'"}],"mark":{"type":"text","fontSize":10,"fontWeight":"bold","color":"#222222"},"encoding":{"text":{"field":"t"}}}
]}}
],"spacing":0},
{"hconcat":[
{"width":63,"height":382.5,"view":{"stroke":null},"data":{"name":"groups"},
"encoding":{"y":{"field":"r0","type":"quantitative","scale":{"domain":[39,0],"nice":false,"zero":false},"axis":null}},
"layer":[
{"mark":{"type":"rule","color":"#444444","strokeWidth":1},"encoding":{"x":{"datum":54,"type":"quantitative","scale":{"domain":[0,63],"nice":false},"axis":null},"y2":{"field":"r1"}}},
{"mark":{"type":"rule","color":"#444444","strokeWidth":1},"encoding":{"x":{"datum":54,"type":"quantitative"},"x2":{"datum":62.7}}},
{"mark":{"type":"rule","color":"#444444","strokeWidth":1},"encoding":{"x":{"datum":54,"type":"quantitative"},"x2":{"datum":62.7},"y":{"field":"r1","type":"quantitative"}}},
{"mark":{"type":"text","align":"left","fontSize":10.5,"color":"#333333"},"encoding":{"x":{"datum":1,"type":"quantitative"},"y":{"field":"mid","type":"quantitative"},"text":{"field":"group"}}}
]},
{"data":{"name":"bars"},"transform":[{"filter":{"field":"compound","oneOf":["7k","7b","7c","23","7l","7d","7f"]}}],
"facet":{"column":{"field":"compound","type":"nominal","sort":["7k","7b","7c","23","7l","7d","7f"],"header":null}},"spacing":10.5,"bounds":"flush",
"spec":{"width":74.7,"height":382.5,
"layer":[
{"mark":{"type":"bar","clip":true},"encoding":{
"x":{"field":"v","type":"quantitative","title":null,"scale":{"domain":[4,8],"nice":false,"zero":false},"axis":{"tickCount":5,"grid":true,"gridColor":"#99a1a6","gridWidth":1.1,"ticks":false,"domain":false,"labelFontSize":10.8,"labelColor":"#333333","labelPadding":-1,"labelFlush":false,"title":null}},
"x2":{"datum":4},
"y":{"field":"cell","type":"nominal","scale":{"domain":["HBC–4","BSY–1","HBC–5","MCF–7","MDA–MB–231","U251","SF–268","SF–295","SF–539","SNB–75","SNB–78","HCC2998","KM–12","HT–29","HCT–15","HCT–116","NCI–H23","NCI–H226","NCI–H522","NCI–H460","A549","DMS273","DMS114","LOX–IMVI","OVCAR–3","OVCAR–4","OVCAR–5","OVCAR–8","SK–OV–3","RXF–631L","ACHN","St–4","MKN1","MKN–B","MKN–A","MKN45","MKN74","DU–145","PC–3"],"paddingInner":0,"paddingOuter":0.05},"axis":{"title":null,"ticks":false,"domain":false,"labelFontSize":10.4,"labelColor":"#333333","labelPadding":3,"minExtent":73,"maxExtent":73,"labelOverlap":false}},
"color":{"field":"cell","type":"nominal","legend":null,"scale":{"domain":["HBC–4","BSY–1","HBC–5","MCF–7","MDA–MB–231","U251","SF–268","SF–295","SF–539","SNB–75","SNB–78","HCC2998","KM–12","HT–29","HCT–15","HCT–116","NCI–H23","NCI–H226","NCI–H522","NCI–H460","A549","DMS273","DMS114","LOX–IMVI","OVCAR–3","OVCAR–4","OVCAR–5","OVCAR–8","SK–OV–3","RXF–631L","ACHN","St–4","MKN1","MKN–B","MKN–A","MKN45","MKN74","DU–145","PC–3"],"range":["#a566c8","#d9c7f2","#8a4ff0","#4f9ff5","#4db4d3","#000000","#ff5a22","#ff3b20","#f01e12","#a80a0a","#6b0505","#7a3df0","#3f78e8","#4060ee","#4a45e8","#5c3ff5","#7df545","#6ef56a","#b2cc25","#90ec30","#e8eef5","#b98cff","#c5a6ff","#4488f5","#c2c422","#d4a820","#d99a45","#f08028","#d60808","#ff5a18","#e0daf0","#3a0505","#50e08a","#55ccb0","#4fb8c5","#5ce880","#62ee70","#a868d8","#f07a28"]}}
}},
{"transform":[{"filter":"datum.compound==='7k' && datum.cell==='MCF–7'"}],"mark":{"type":"text","dy":24,"fontSize":10.5,"color":"#333333"},"encoding":{"x":{"datum":6,"type":"quantitative"},"y":{"datum":"PC–3","type":"nominal"},"text":{"value":"Log (1/GI₅₀)"}}}
]}}
],"spacing":0}
],
"spacing":0
}
